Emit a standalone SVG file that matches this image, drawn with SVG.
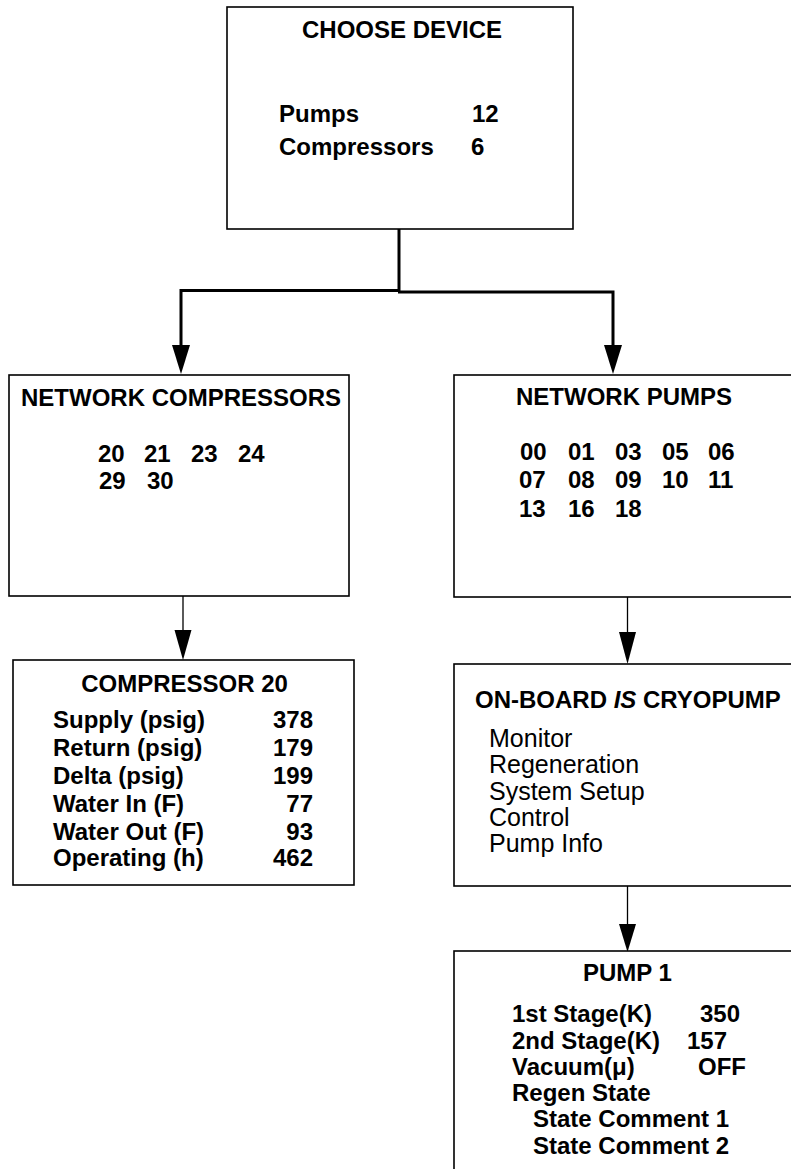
<svg xmlns="http://www.w3.org/2000/svg" width="791" height="1169" viewBox="0 0 791 1169">
<style>
.box{fill:#fff;stroke:#000;stroke-width:1.6}
.t{font-family:"Liberation Sans",Arial,sans-serif;font-size:24px;font-weight:bold;fill:#000}
.r{font-family:"Liberation Sans",Arial,sans-serif;font-size:25px;fill:#000}
.c{text-anchor:middle}
.e{text-anchor:end}
.thick{stroke:#000;stroke-width:3;fill:none}
.thin{stroke:#000;stroke-width:1.3;fill:none}
.head{fill:#000;stroke:none}
</style>
<rect width="791" height="1169" fill="#fff"/>
<g id="connectors">
  <path class="thick" d="M399,229 V292"/>
  <path class="thick" d="M181,348 V290.5 H400"/>
  <path class="thick" d="M398,292 H613 V348"/>
  <polygon class="head" points="172,345 190,345 181,374"/>
  <polygon class="head" points="604,345 622,345 613,374"/>
  <path class="thin" d="M183,596 V632"/>
  <polygon class="head" points="174.5,630 191.5,630 183,660"/>
  <path class="thin" d="M627.5,597 V634"/>
  <polygon class="head" points="619,632 636,632 627.5,664"/>
  <path class="thin" d="M627.5,886 V926"/>
  <polygon class="head" points="619,924 636,924 627.5,952"/>
</g>
<g id="choose-device">
  <rect class="box" x="227" y="7" width="346" height="222"/>
  <text class="t c" x="402" y="38">CHOOSE DEVICE</text>
  <text class="t" x="279" y="122">Pumps</text>
  <text class="t" x="472" y="122">12</text>
  <text class="t" x="279" y="155">Compressors</text>
  <text class="t" x="471" y="155">6</text>
</g>
<g id="network-compressors">
  <rect class="box" x="9" y="375" width="340" height="221"/>
  <text class="t c" x="181" y="406">NETWORK COMPRESSORS</text>
  <text class="t" x="98" y="462">20</text>
  <text class="t" x="144" y="462">21</text>
  <text class="t" x="191" y="462">23</text>
  <text class="t" x="238" y="462">24</text>
  <text class="t" x="99" y="489">29</text>
  <text class="t" x="147" y="489">30</text>
</g>
<g id="network-pumps">
  <rect class="box" x="454" y="375" width="345" height="222"/>
  <text class="t c" x="624" y="405">NETWORK PUMPS</text>
  <text class="t" x="520" y="460">00</text>
  <text class="t" x="568" y="460">01</text>
  <text class="t" x="615" y="460">03</text>
  <text class="t" x="662" y="460">05</text>
  <text class="t" x="708" y="460">06</text>
  <text class="t" x="519" y="488">07</text>
  <text class="t" x="568" y="488">08</text>
  <text class="t" x="615" y="488">09</text>
  <text class="t" x="662" y="488">10</text>
  <text class="t" x="708" y="488">11</text>
  <text class="t" x="519" y="517">13</text>
  <text class="t" x="568" y="517">16</text>
  <text class="t" x="615" y="517">18</text>
</g>
<g id="compressor-20">
  <rect class="box" x="13" y="660" width="341" height="225"/>
  <text class="t c" x="184.5" y="692">COMPRESSOR 20</text>
  <text class="t" x="53" y="728">Supply (psig)</text>
  <text class="t e" x="313" y="728">378</text>
  <text class="t" x="53" y="756">Return (psig)</text>
  <text class="t e" x="313" y="756">179</text>
  <text class="t" x="53" y="784">Delta (psig)</text>
  <text class="t e" x="313" y="784">199</text>
  <text class="t" x="53" y="812">Water In (F)</text>
  <text class="t e" x="313" y="812">77</text>
  <text class="t" x="53" y="840">Water Out (F)</text>
  <text class="t e" x="313" y="840">93</text>
  <text class="t" x="53" y="866">Operating (h)</text>
  <text class="t e" x="313" y="866">462</text>
</g>
<g id="onboard-cryopump">
  <rect class="box" x="454" y="664" width="345" height="222"/>
  <text class="t" x="475" y="708">ON-BOARD <tspan font-style="italic">IS</tspan> CRYOPUMP</text>
  <text class="r" x="489" y="747">Monitor</text>
  <text class="r" x="489" y="773">Regeneration</text>
  <text class="r" x="489" y="800">System Setup</text>
  <text class="r" x="489" y="826">Control</text>
  <text class="r" x="489" y="852">Pump Info</text>
</g>
<g id="pump-1">
  <rect class="box" x="454" y="951" width="345" height="230"/>
  <text class="t c" x="627.5" y="981">PUMP 1</text>
  <text class="t" x="512" y="1022">1st Stage(K)</text>
  <text class="t" x="700" y="1022">350</text>
  <text class="t" x="512" y="1049">2nd Stage(K)</text>
  <text class="t" x="687" y="1049">157</text>
  <text class="t" x="512" y="1075">Vacuum(μ)</text>
  <text class="t" x="698" y="1075">OFF</text>
  <text class="t" x="512" y="1101">Regen State</text>
  <text class="t" x="533" y="1127">State Comment 1</text>
  <text class="t" x="533" y="1154">State Comment 2</text>
</g>
</svg>
